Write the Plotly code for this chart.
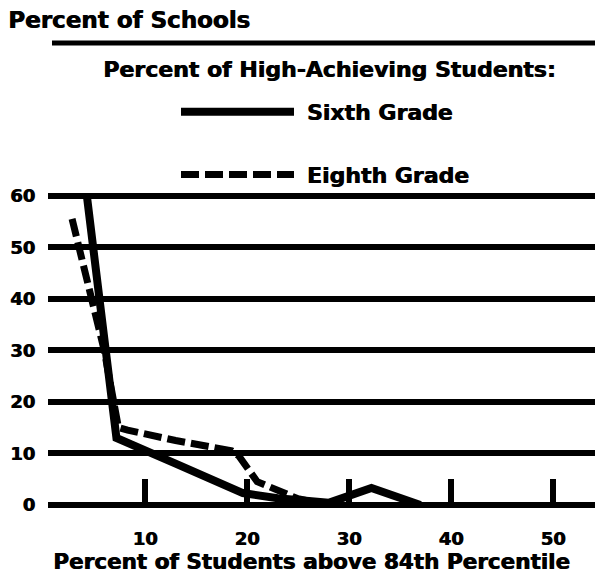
import plotly.graph_objects as go

# Data
sixth_x = [4.3, 7.2, 13, 19.6, 23, 28, 32.2, 37]
sixth_y = [60, 13, 8, 2.3, 1.3, 0.4, 3.3, 0]

eighth_x = [2.85, 6.0, 7.4, 8.3, 13, 18.5, 19.2, 21, 25, 28]
eighth_y = [55.5, 30, 15, 14.5, 12.5, 10.5, 9.5, 4.5, 1.2, 0]

x_ticks = [10, 20, 30, 40, 50]
y_ticks = [0, 10, 20, 30, 40, 50, 60]

FONT = "DejaVu Sans"
SH = "0.8px 0 0 black"
fnt = dict(family=FONT, size=22, color="black", weight="bold", shadow=SH)
tickfnt = dict(family=FONT, size=18, color="black", weight="bold", shadow=SH)

# page body has an 8px margin; figure is sized to fit the window without scroll
OFF = 8
W, H = 595, 565
L, R, T, B = 40, 0, 180, 65
PW = W - L - R
PH = H - T - B

def py(pix):  # page pixel y -> paper y
    return (H - B - (pix - OFF)) / PH

def px(pix):  # page pixel x -> paper x
    return (pix - OFF - L) / PW

fig = go.Figure()
fig.add_trace(go.Scatter(
    x=sixth_x, y=sixth_y, mode="lines", name=" Sixth Grade",
    line=dict(color="black", width=8), legendgroup="a", hoverinfo="skip"))
fig.add_trace(go.Scatter(
    x=eighth_x, y=eighth_y, mode="lines", name=" Eighth Grade",
    line=dict(color="black", width=7, dash="18px,6px"), legendgroup="b",
    hoverinfo="skip"))

fig.update_layout(
    width=W, height=H,
    margin=dict(l=L, r=R, t=T, b=B, autoexpand=False),
    paper_bgcolor="white", plot_bgcolor="white",
    font=fnt,
    title=dict(text="Percent of Schools",
               font=dict(family=FONT, size=23, color="black", weight="bold", shadow=SH),
               x=0, xanchor="left", xref="container",
               y=1 - (20 - OFF) / H, yanchor="middle", yref="container",
               pad=dict(l=0, r=0, t=0, b=0)),
    showlegend=True,
    legend=dict(x=px(176), y=py(91), xanchor="left", yanchor="top",
                font=fnt, itemwidth=113, tracegroupgap=31,
                bgcolor="rgba(0,0,0,0)", borderwidth=0),
    xaxis=dict(range=[0.49, 54.9], tickvals=x_ticks, ticks="inside",
               ticklen=29, tickwidth=6, tickcolor="black", showgrid=False,
               zeroline=False, showline=False, tickfont=tickfnt,
               ticklabelstandoff=18, automargin=False),
    yaxis=dict(range=[-0.6, 61.5], tickvals=y_ticks, showgrid=True,
               gridcolor="black", gridwidth=6, zeroline=True,
               zerolinecolor="black", zerolinewidth=6, showline=False,
               ticks="", tickfont=tickfnt, ticklabelstandoff=12,
               automargin=False),
    annotations=[
        dict(text="Percent of High-Achieving Students:", xref="paper", yref="paper",
             x=px(101), y=py(69), xanchor="left", yanchor="middle",
             showarrow=False, font=fnt),
        dict(text="Percent of Students above 84th Percentile", xref="paper",
             yref="paper", x=px(311), y=py(561), xanchor="center",
             yanchor="middle", showarrow=False,
             font=dict(family=FONT, size=21.5, color="black", weight="bold", shadow=SH)),
    ],
    shapes=[
        dict(type="line", xref="paper", yref="paper", x0=px(52), x1=1,
             y0=py(43), y1=py(43), line=dict(color="black", width=5)),
    ],
)

fig.write_html("out.html")
